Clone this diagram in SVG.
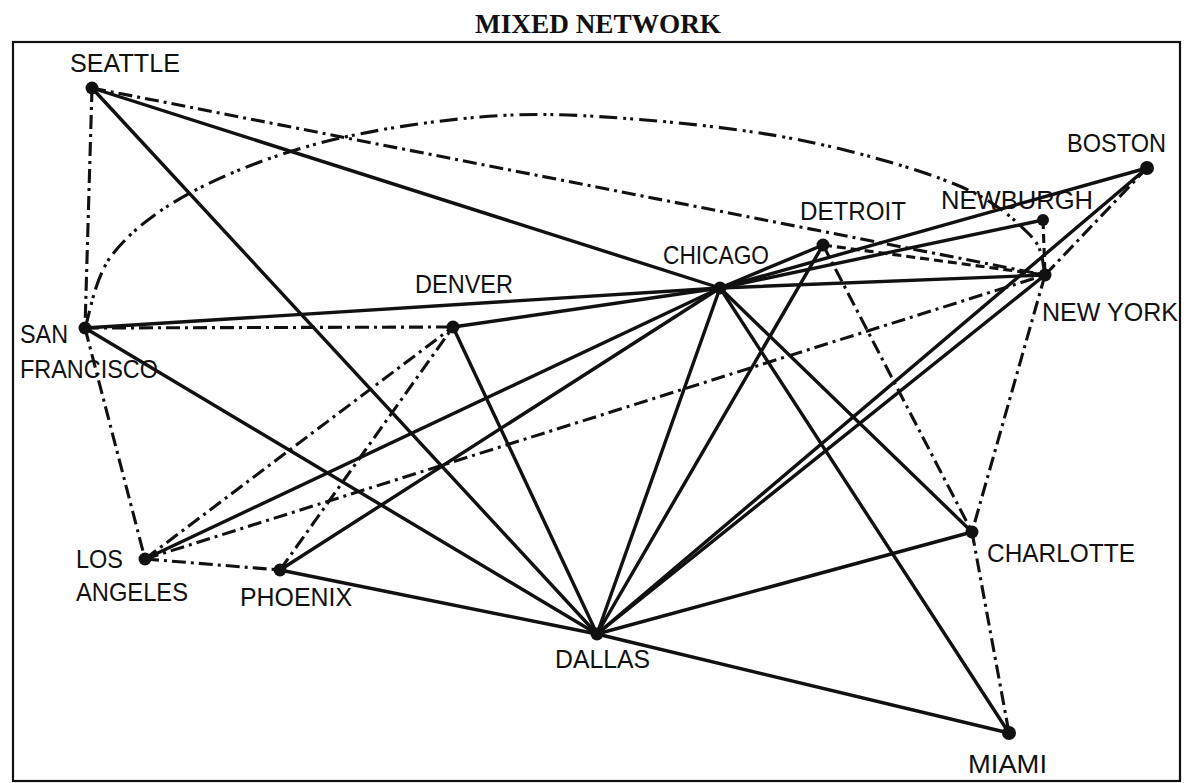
<svg xmlns="http://www.w3.org/2000/svg" width="1192" height="783" viewBox="0 0 1192 783">
<style>
.solid{stroke:#111;stroke-width:3.4;fill:none;stroke-linecap:round}
.dd{stroke:#111;stroke-width:3.1;fill:none;stroke-dasharray:14 5 3 5}
.curve{stroke:#111;stroke-width:3.1;fill:none;stroke-dasharray:18 6 3 4 3 6}
.dash{stroke:#111;stroke-width:3.1;fill:none;stroke-dasharray:9 5}
.node circle{fill:#111}
.label{font-family:"Liberation Sans",Arial,sans-serif;font-size:25.5px;fill:#111}
.title{font-family:"Liberation Serif","Times New Roman",serif;font-size:27px;font-weight:bold;fill:#111}
</style>
<rect width="1192" height="783" fill="#fff"/>
<text class="title" x="598" y="33" text-anchor="middle" textLength="246" lengthAdjust="spacingAndGlyphs">MIXED NETWORK</text>
<rect x="13" y="42" width="1167" height="739" fill="none" stroke="#111" stroke-width="2.2"/>
<g id="connectors">
<line class="solid" x1="92" y1="88" x2="720" y2="288"/>
<line class="solid" x1="92" y1="88" x2="597" y2="634"/>
<line class="solid" x1="85" y1="328" x2="720" y2="288"/>
<line class="solid" x1="85" y1="328" x2="597" y2="634"/>
<line class="solid" x1="453" y1="327" x2="720" y2="288"/>
<line class="solid" x1="453" y1="327" x2="597" y2="634"/>
<line class="solid" x1="145" y1="559" x2="720" y2="288"/>
<line class="solid" x1="280" y1="570" x2="720" y2="288"/>
<line class="solid" x1="280" y1="570" x2="597" y2="634"/>
<line class="solid" x1="720" y1="288" x2="597" y2="634"/>
<line class="solid" x1="720" y1="288" x2="823" y2="245"/>
<line class="solid" x1="720" y1="288" x2="1043" y2="220"/>
<line class="solid" x1="720" y1="288" x2="1147" y2="168"/>
<line class="solid" x1="720" y1="288" x2="1045" y2="275"/>
<line class="solid" x1="720" y1="288" x2="972" y2="532"/>
<line class="solid" x1="720" y1="288" x2="1009" y2="733"/>
<line class="solid" x1="823" y1="245" x2="597" y2="634"/>
<line class="solid" x1="597" y1="634" x2="1045" y2="275"/>
<line class="solid" x1="597" y1="634" x2="1147" y2="168"/>
<line class="solid" x1="597" y1="634" x2="972" y2="532"/>
<line class="solid" x1="597" y1="634" x2="1009" y2="733"/>
<line class="dd" x1="92" y1="88" x2="85" y2="328"/>
<line class="dd" x1="92" y1="88" x2="1045" y2="275"/>
<line class="dd" x1="85" y1="328" x2="453" y2="327"/>
<line class="dd" x1="85" y1="328" x2="145" y2="559"/>
<line class="dd" x1="145" y1="559" x2="453" y2="327"/>
<line class="dd" x1="145" y1="559" x2="280" y2="570"/>
<line class="dd" x1="145" y1="559" x2="1045" y2="275"/>
<line class="dd" x1="280" y1="570" x2="453" y2="327" stroke-width="2.6"/>
<line class="dd" x1="823" y1="245" x2="972" y2="532"/>
<line class="dd" x1="1045" y1="275" x2="972" y2="532"/>
<line class="dd" x1="972" y1="532" x2="1009" y2="733"/>
<line class="dd" x1="1045" y1="275" x2="1147" y2="168"/>
<line class="dash" x1="823" y1="245" x2="1045" y2="275"/>
<line class="dash" x1="1043" y1="220" x2="1045" y2="275"/>
<path class="curve" d="M85,328 C89.5,315.8 94.5,277.5 112,255 C129.5,232.5 155.3,211.7 190,193 C224.7,174.3 271.7,155.7 320,143 C368.3,130.3 430,121.2 480,117 C530,112.8 566.7,114.2 620,118 C673.3,121.8 743.8,128.8 800,140 C856.2,151.2 918.7,169.2 957,185 C995.3,200.8 1015.3,220.3 1030,235 C1044.7,249.7 1042.5,266.7 1045,275"/>
</g>
<g id="seattle" class="node"><circle cx="92" cy="88" r="6.5"/><text class="label" x="70" y="72" textLength="110" lengthAdjust="spacingAndGlyphs">SEATTLE</text></g>
<g id="san-francisco" class="node"><circle cx="85" cy="328" r="6.5"/><text class="label" x="20" y="343" textLength="48" lengthAdjust="spacingAndGlyphs">SAN</text><text class="label" x="20" y="378" textLength="138" lengthAdjust="spacingAndGlyphs">FRANCISCO</text></g>
<g id="denver" class="node"><circle cx="453" cy="327" r="6.5"/><text class="label" x="415" y="293" textLength="98" lengthAdjust="spacingAndGlyphs">DENVER</text></g>
<g id="los-angeles" class="node"><circle cx="145" cy="559" r="6.5"/><text class="label" x="76" y="568" textLength="47" lengthAdjust="spacingAndGlyphs">LOS</text><text class="label" x="76" y="601" textLength="112" lengthAdjust="spacingAndGlyphs">ANGELES</text></g>
<g id="phoenix" class="node"><circle cx="280" cy="570" r="6.5"/><text class="label" x="240" y="606" textLength="112" lengthAdjust="spacingAndGlyphs">PHOENIX</text></g>
<g id="chicago" class="node"><circle cx="720" cy="288" r="6.5"/><text class="label" x="663" y="264" textLength="106" lengthAdjust="spacingAndGlyphs">CHICAGO</text></g>
<g id="detroit" class="node"><circle cx="823" cy="245" r="6.5"/><text class="label" x="800" y="220" textLength="106" lengthAdjust="spacingAndGlyphs">DETROIT</text></g>
<g id="newburgh" class="node"><circle cx="1043" cy="220" r="6"/><text class="label" x="941" y="209" textLength="152" lengthAdjust="spacingAndGlyphs">NEWBURGH</text></g>
<g id="boston" class="node"><circle cx="1147" cy="168" r="7"/><text class="label" x="1067" y="152" textLength="99" lengthAdjust="spacingAndGlyphs">BOSTON</text></g>
<g id="new-york" class="node"><circle cx="1045" cy="275" r="6.5"/><text class="label" x="1042" y="321" textLength="136" lengthAdjust="spacingAndGlyphs">NEW YORK</text></g>
<g id="dallas" class="node"><circle cx="597" cy="634" r="6.5"/><text class="label" x="555" y="668" textLength="95" lengthAdjust="spacingAndGlyphs">DALLAS</text></g>
<g id="charlotte" class="node"><circle cx="972" cy="532" r="6.5"/><text class="label" x="987" y="562" textLength="148" lengthAdjust="spacingAndGlyphs">CHARLOTTE</text></g>
<g id="miami" class="node"><circle cx="1009" cy="733" r="7"/><text class="label" x="968" y="773" textLength="79" lengthAdjust="spacingAndGlyphs">MIAMI</text></g>
</svg>
